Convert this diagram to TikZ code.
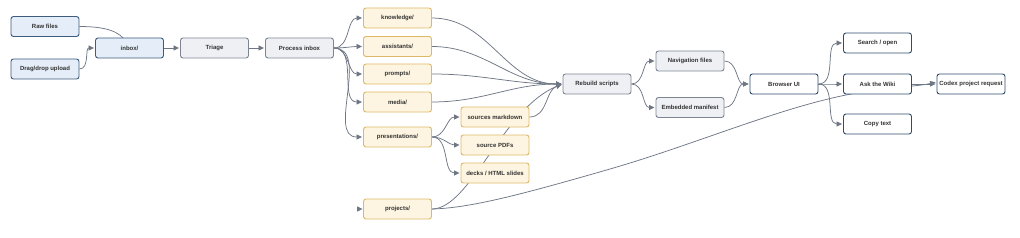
\documentclass[tikz,border=0pt]{standalone}
\usepackage{fontspec}
\setmainfont{Liberation Sans}
\usetikzlibrary{arrows.meta,backgrounds}
\definecolor{edgec}{HTML}{6F7785}
\definecolor{bluefill}{HTML}{E4EDF8}
\definecolor{blueline}{HTML}{3E5C7E}
\definecolor{grayfill}{HTML}{EEF0F4}
\definecolor{grayline}{HTML}{7D8594}
\definecolor{yelfill}{HTML}{FDF5E1}
\definecolor{yelline}{HTML}{DDB866}
\definecolor{wline}{HTML}{2F4D6E}
\definecolor{txt}{HTML}{333333}
\begin{document}
\begin{tikzpicture}[x=1pt,y=-1pt,
  box/.style={rounded corners=2.5pt, minimum width=68pt, minimum height=20pt, inner sep=0pt, line width=0.9pt, font=\fontsize{6}{7}\selectfont\bfseries, text=txt},
  bluebox/.style={box, fill=bluefill, draw=blueline},
  graybox/.style={box, fill=grayfill, draw=grayline},
  yelbox/.style={box, fill=yelfill, draw=yelline},
  whitebox/.style={box, fill=white, draw=wline},
  edge/.style={draw=edgec, line width=0.75pt, -{Triangle[length=5.5pt,width=5pt]}, shorten >=1pt},
]
\useasboundingbox (0,0) rectangle (1020,238);
% nodes
\node[bluebox] (raw) at (45,26.5) {Raw files};
\node[bluebox] (drag) at (45,69) {Drag/drop upload};
\node[bluebox] (inbox) at (129.5,48) {inbox/};
\node[graybox] (triage) at (214.5,48) {Triage};
\node[graybox] (process) at (299.5,48) {Process inbox};
\node[yelbox] (knowledge) at (397.5,18) {knowledge/};
\node[yelbox] (assistants) at (397.5,46.5) {assistants/};
\node[yelbox] (prompts) at (397.5,74) {prompts/};
\node[yelbox] (media) at (397.5,102) {media/};
\node[yelbox] (presentations) at (397.5,137) {presentations/};
\node[yelbox] (projects) at (397.5,209) {projects/};
\node[yelbox] (markdown) at (495,117) {sources markdown};
\node[yelbox] (pdfs) at (495,145) {source PDFs};
\node[yelbox] (decks) at (495,173) {decks / HTML slides};
\node[graybox] (rebuild) at (597,84) {Rebuild scripts};
\node[graybox] (nav) at (690,61) {Navigation files};
\node[graybox] (manifest) at (690,107.5) {Embedded manifest};
\node[whitebox] (browser) at (784,84) {Browser UI};
\node[whitebox] (search) at (877.5,43) {Search / open};
\node[whitebox] (ask) at (877.5,84) {Ask the Wiki};
\node[whitebox] (copy) at (877.5,124) {Copy text};
\node[whitebox] (codex) at (971,84) {Codex project request};
\coordinate (stub) at (357,209);
% edges
\begin{scope}[on background layer]
\draw[edge] (raw.east) .. controls (105,26.5) and (120,31) .. (inbox.center);
\draw[edge] (drag.east) to[out=0,in=180] (inbox.west);
\draw[edge] (inbox) -- (triage);
\draw[edge] (triage) -- (process);
\foreach \n in {knowledge,assistants,prompts,media,presentations}
  \draw[edge] (process.east) to[out=0,in=180] (\n.west);
\draw[edge, shorten >=0.5pt] (stub) -- (projects.west);
\foreach \n in {knowledge,assistants,prompts,media}
  \draw[edge] (\n.east) to[out=0,in=180] (rebuild.west);
\foreach \n in {markdown,pdfs,decks}
  \draw[edge] (presentations.east) to[out=0,in=180] (\n.west);
\draw[edge] (markdown.east) to[out=0,in=200] (rebuild.west);
\draw[edge] (projects.east) .. controls (470,209) and (503,108) .. (rebuild.west);
\draw[edge] (projects.east) .. controls (470,208) and (520,195) .. (610,169)
   .. controls (700,143) and (790,103) .. (863,92)
   .. controls (900,86.5) and (920,86) .. ([yshift=2pt]codex.west);
\foreach \n in {nav,manifest} {
  \draw[edge] (rebuild.east) to[out=0,in=180] (\n.west);
  \draw[edge] (\n.east) to[out=0,in=180] (browser.west);
}
\foreach \n in {search,ask,copy}
  \draw[edge] (browser.east) to[out=0,in=180] (\n.west);
\draw[edge] (ask) -- (codex);
\end{scope}
\end{tikzpicture}
\end{document}
